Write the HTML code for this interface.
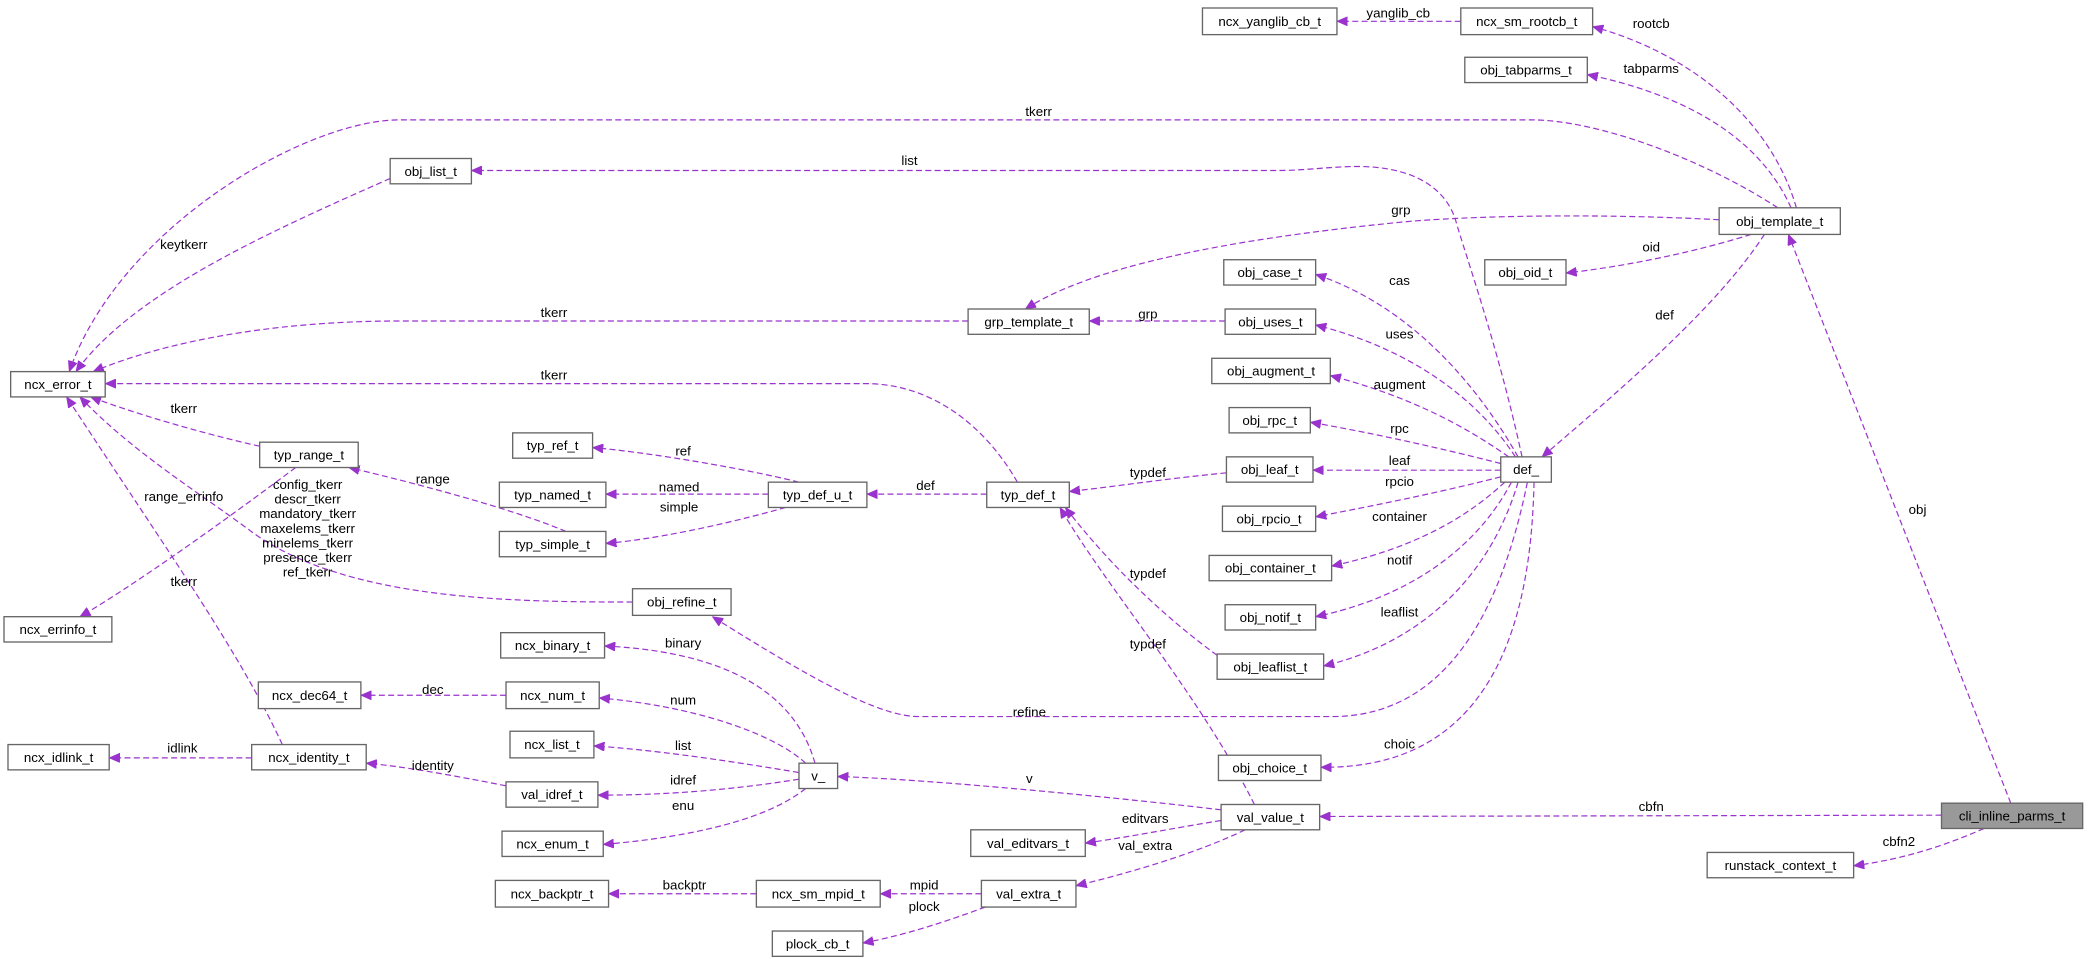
<!DOCTYPE html>
<html><head><meta charset="utf-8"><style>
html,body{margin:0;padding:0;background:#fff;}
svg{display:block;}
text{font-family:"Liberation Sans","DejaVu Sans",sans-serif;font-size:10px;fill:#000;}
.n rect{fill:#fff;stroke:#666;stroke-width:1;}
.e{fill:none;stroke:#9a32cd;stroke-width:0.9;stroke-dasharray:4.5,2.5;}
</style></head><body>
<svg width="2088" height="959" viewBox="0 0 1568 720" preserveAspectRatio="none" xmlns="http://www.w3.org/2000/svg">
<defs><marker id="a" markerUnits="userSpaceOnUse" markerWidth="9" markerHeight="7" refX="8" refY="3.5" orient="auto"><path d="M0,0 L8,3.5 L0,7 z" fill="#9a32cd" stroke="#9a32cd" stroke-width="0.5"/></marker></defs>
<g marker-end="url(#a)">
<path class="e" d="M1097,16 L1004,16"/>
<path class="e" d="M1349,156 C1330,90 1270,40 1196,20"/>
<path class="e" d="M1345,156 C1320,100 1260,70 1192,56"/>
<path class="e" d="M1335,156 C1280,120 1200,90 1150,90 L300,90 C230,90 90,170 52,279"/>
<path class="e" d="M1143,343 C1125,260 1100,190 1093,165 C1085,140 1060,125 1019,125 C1000,125 980,128 960,128 L354,128"/>
<path class="e" d="M1291,165 C1200,160 1100,162 1050,167 C920,180 820,200 770,232"/>
<path class="e" d="M1315,176 C1270,190 1220,200 1176,205"/>
<path class="e" d="M1325,176 C1290,230 1220,290 1158,343"/>
<path class="e" d="M1510,603 L1343,176"/>
<path class="e" d="M293,134 C200,175 100,220 57,279"/>
<path class="e" d="M727,241 L300,241 C200,241 120,258 70,279"/>
<path class="e" d="M920,241 L818,241"/>
<path class="e" d="M1140,343 C1110,290 1060,230 988,206"/>
<path class="e" d="M1138,343 C1110,300 1060,262 988,244"/>
<path class="e" d="M1133,343 C1100,320 1060,298 999,282"/>
<path class="e" d="M1127,348 C1080,336 1030,325 984,317"/>
<path class="e" d="M1127,353 L986,353"/>
<path class="e" d="M1127,358 C1080,370 1030,380 988,388"/>
<path class="e" d="M1130,362 C1100,390 1060,412 1000,425"/>
<path class="e" d="M1135,362 C1110,410 1060,448 988,463"/>
<path class="e" d="M1140,362 C1120,430 1070,482 994,500"/>
<path class="e" d="M1152,362 C1150,450 1130,578 992,576"/>
<path class="e" d="M1147,362 C1125,470 1080,538 1000,538 L690,538 C660,538 610,510 535,463"/>
<path class="e" d="M921,355 C870,360 840,365 803,369"/>
<path class="e" d="M914,492 C870,460 830,420 800,381"/>
<path class="e" d="M942,604 C900,520 830,440 796,381"/>
<path class="e" d="M741,371 L651,371"/>
<path class="e" d="M764,362 C740,320 700,288 650,288 L79,288"/>
<path class="e" d="M600,362 C560,352 490,340 445,336"/>
<path class="e" d="M577,371 L455,371"/>
<path class="e" d="M590,381 C540,395 490,405 455,408"/>
<path class="e" d="M425,399 C380,380 300,360 262,351"/>
<path class="e" d="M195,335 C150,325 100,310 68,298"/>
<path class="e" d="M222,351 C170,390 100,440 60,463"/>
<path class="e" d="M475,452 C380,452 260,450 190,400 C150,370 100,340 60,298"/>
<path class="e" d="M212,559 C180,490 130,420 50,298"/>
<path class="e" d="M189,569 L82,569"/>
<path class="e" d="M380,590 C340,582 300,575 275,573"/>
<path class="e" d="M380,522 L271,522"/>
<path class="e" d="M612,573 C600,530 560,490 454,485"/>
<path class="e" d="M605,573 C580,550 520,530 450,524"/>
<path class="e" d="M600,580 C540,570 490,563 446,560"/>
<path class="e" d="M600,585 C550,593 500,597 449,597"/>
<path class="e" d="M605,592 C570,620 500,630 453,634"/>
<path class="e" d="M917,608 C850,600 700,585 629,583"/>
<path class="e" d="M1458,612 L991,613"/>
<path class="e" d="M1490,622 C1460,635 1430,645 1392,650"/>
<path class="e" d="M917,616 C880,622 850,628 815,633"/>
<path class="e" d="M935,623 C900,640 850,655 808,665"/>
<path class="e" d="M737,671 L661,671"/>
<path class="e" d="M740,681 C710,692 680,702 648,708"/>
<path class="e" d="M568,671 L457,671"/>
</g>
<g text-anchor="middle">
<text x="1050" y="13">yanglib_cb</text>
<text x="1240" y="21">rootcb</text>
<text x="1240" y="55">tabparms</text>
<text x="780" y="87">tkerr</text>
<text x="683" y="124">list</text>
<text x="1052" y="161">grp</text>
<text x="1240" y="189">oid</text>
<text x="1250" y="240">def</text>
<text x="1440" y="386">obj</text>
<text x="138" y="187">keytkerr</text>
<text x="416" y="238">tkerr</text>
<text x="862" y="239">grp</text>
<text x="1051" y="214">cas</text>
<text x="1051" y="254">uses</text>
<text x="1051" y="292">augment</text>
<text x="1051" y="325">rpc</text>
<text x="1051" y="349">leaf</text>
<text x="1051" y="365">rpcio</text>
<text x="1051" y="391">container</text>
<text x="1051" y="424">notif</text>
<text x="1051" y="463">leaflist</text>
<text x="1051" y="562">choic</text>
<text x="773" y="538">refine</text>
<text x="862" y="358">typdef</text>
<text x="862" y="434">typdef</text>
<text x="862" y="487">typdef</text>
<text x="695" y="368">def</text>
<text x="416" y="285">tkerr</text>
<text x="513" y="342">ref</text>
<text x="510" y="369">named</text>
<text x="510" y="384">simple</text>
<text x="325" y="363">range</text>
<text x="138" y="310">tkerr</text>
<text x="138" y="376">range_errinfo</text>
<text x="231" y="367">config_tkerr</text>
<text x="231" y="378">descr_tkerr</text>
<text x="231" y="389">mandatory_tkerr</text>
<text x="231" y="400">maxelems_tkerr</text>
<text x="231" y="411">minelems_tkerr</text>
<text x="231" y="422">presence_tkerr</text>
<text x="231" y="433">ref_tkerr</text>
<text x="138" y="440">tkerr</text>
<text x="137" y="565">idlink</text>
<text x="325" y="578">identity</text>
<text x="325" y="521">dec</text>
<text x="513" y="486">binary</text>
<text x="513" y="529">num</text>
<text x="513" y="563">list</text>
<text x="513" y="589">idref</text>
<text x="513" y="608">enu</text>
<text x="773" y="588">v</text>
<text x="1240" y="609">cbfn</text>
<text x="1426" y="635">cbfn2</text>
<text x="860" y="618">editvars</text>
<text x="860" y="638">val_extra</text>
<text x="694" y="668">mpid</text>
<text x="694" y="684">plock</text>
<text x="514" y="668">backptr</text>
</g>
<g class="n" text-anchor="middle">
<rect x="903" y="6" width="101" height="20"/><text x="953.5" y="19.5">ncx_yanglib_cb_t</text>
<rect x="1097" y="6" width="99" height="20"/><text x="1146.5" y="19.5">ncx_sm_rootcb_t</text>
<rect x="1100" y="43" width="92" height="19"/><text x="1146" y="56">obj_tabparms_t</text>
<rect x="1291" y="156" width="91" height="20"/><text x="1336.5" y="169.5">obj_template_t</text>
<rect x="293" y="119" width="61" height="19"/><text x="323.5" y="132">obj_list_t</text>
<rect x="1115" y="195" width="61" height="19"/><text x="1145.5" y="208">obj_oid_t</text>
<rect x="919" y="195" width="69" height="19"/><text x="953.5" y="208">obj_case_t</text>
<rect x="727" y="232" width="91" height="19"/><text x="772.5" y="245">grp_template_t</text>
<rect x="920" y="232" width="68" height="19"/><text x="954" y="245">obj_uses_t</text>
<rect x="8" y="279" width="71" height="19"/><text x="43.5" y="292">ncx_error_t</text>
<rect x="910" y="269" width="89" height="19"/><text x="954.5" y="282">obj_augment_t</text>
<rect x="923" y="306" width="61" height="19"/><text x="953.5" y="319">obj_rpc_t</text>
<rect x="195" y="332" width="74" height="19"/><text x="232" y="345">typ_range_t</text>
<rect x="385" y="325" width="60" height="19"/><text x="415" y="338">typ_ref_t</text>
<rect x="921" y="343" width="65" height="19"/><text x="953.5" y="356">obj_leaf_t</text>
<rect x="1127" y="343" width="38" height="19"/><text x="1146" y="356">def_</text>
<rect x="375" y="362" width="80" height="19"/><text x="415" y="375">typ_named_t</text>
<rect x="577" y="362" width="74" height="19"/><text x="614" y="375">typ_def_u_t</text>
<rect x="741" y="362" width="62" height="19"/><text x="772" y="375">typ_def_t</text>
<rect x="918" y="380" width="70" height="19"/><text x="953" y="393">obj_rpcio_t</text>
<rect x="375" y="399" width="80" height="19"/><text x="415" y="412">typ_simple_t</text>
<rect x="908" y="417" width="92" height="19"/><text x="954" y="430">obj_container_t</text>
<rect x="475" y="442" width="74" height="20"/><text x="512" y="455.5">obj_refine_t</text>
<rect x="920" y="454" width="68" height="19"/><text x="954" y="467">obj_notif_t</text>
<rect x="3" y="463" width="81" height="19"/><text x="43.5" y="476">ncx_errinfo_t</text>
<rect x="376" y="475" width="78" height="19"/><text x="415" y="488">ncx_binary_t</text>
<rect x="914" y="491" width="80" height="19"/><text x="954" y="504">obj_leaflist_t</text>
<rect x="194" y="512" width="77" height="20"/><text x="232.5" y="525.5">ncx_dec64_t</text>
<rect x="380" y="512" width="70" height="20"/><text x="415" y="525.5">ncx_num_t</text>
<rect x="383" y="549" width="63" height="20"/><text x="414.5" y="562.5">ncx_list_t</text>
<rect x="6" y="559" width="76" height="19"/><text x="44" y="572">ncx_idlink_t</text>
<rect x="189" y="559" width="86" height="19"/><text x="232" y="572">ncx_identity_t</text>
<rect x="915" y="567" width="77" height="19"/><text x="953.5" y="580">obj_choice_t</text>
<rect x="600" y="573" width="29" height="19"/><text x="614.5" y="586">v_</text>
<rect x="380" y="587" width="69" height="19"/><text x="414.5" y="600">val_idref_t</text>
<rect x="917" y="604" width="74" height="19"/><text x="954" y="617">val_value_t</text>
<rect x="1458" y="603" width="106" height="19" style="fill:#999"/><text x="1511" y="616">cli_inline_parms_t</text>
<rect x="729" y="623" width="86" height="20"/><text x="772" y="636.5">val_editvars_t</text>
<rect x="377" y="624" width="76" height="19"/><text x="415" y="637">ncx_enum_t</text>
<rect x="1282" y="640" width="110" height="19"/><text x="1337" y="653">runstack_context_t</text>
<rect x="372" y="661" width="85" height="20"/><text x="414.5" y="674.5">ncx_backptr_t</text>
<rect x="568" y="661" width="93" height="20"/><text x="614.5" y="674.5">ncx_sm_mpid_t</text>
<rect x="737" y="661" width="71" height="20"/><text x="772.5" y="674.5">val_extra_t</text>
<rect x="580" y="699" width="68" height="19"/><text x="614" y="712">plock_cb_t</text>
</g>
</svg>
</body></html>
